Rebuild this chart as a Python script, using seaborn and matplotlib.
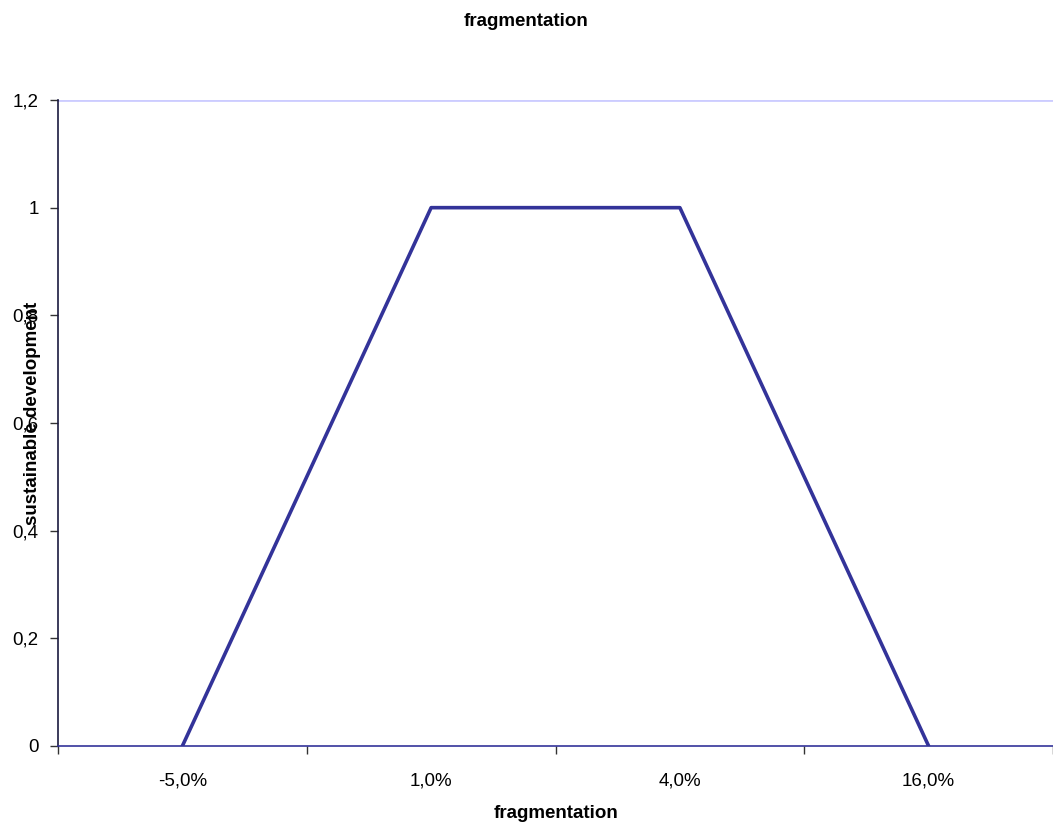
import matplotlib
matplotlib.use("Agg")
import matplotlib.pyplot as plt
import seaborn as sns
import pandas as pd
from matplotlib.ticker import FixedLocator, FuncFormatter

# datos
categorias = ["-5,0%", "1,0%", "4,0%", "16,0%"]
valores = [0, 1, 1, 0]
yticks = [0, 0.2, 0.4, 0.6, 0.8, 1.0, 1.2]

sns.set_theme(style="white")
plt.rcParams['font.family'] = ['Liberation Sans', 'DejaVu Sans']
plt.rcParams['text.color'] = 'black'
plt.rcParams['xtick.color'] = 'black'
plt.rcParams['ytick.color'] = 'black'
plt.rcParams['axes.labelcolor'] = 'black'

FS = 13.5

df = pd.DataFrame({"x": range(len(categorias)), "y": valores})

fig = plt.figure(figsize=(10.53, 8.24), dpi=100)
ax = fig.add_axes([58/1053, 1 - 746/824, 1 - 58/1053, (746 - 100)/824])

sns.lineplot(data=df, x="x", y="y", ax=ax, color="#333399", linewidth=2.6)

ax.set_xlim(-0.5, len(categorias) - 0.5)
ax.set_ylim(0, 1.2)

# solo la linea de rejilla superior (estilo Excel)
ax.axhline(1.2, color="#ccccff", linewidth=2, zorder=0)

ax.xaxis.set_major_locator(FixedLocator([i - 0.5 for i in range(len(categorias) + 1)]))
ax.xaxis.set_minor_locator(FixedLocator(list(range(len(categorias)))))
ax.xaxis.set_major_formatter(FuncFormatter(lambda v, p: ""))
ax.set_xticklabels(categorias, minor=True)
ax.tick_params(axis="x", which="major", length=6, width=1, color="#333333", direction="out", bottom=True)
ax.tick_params(axis="x", which="minor", length=0, labelsize=FS, pad=19)

ax.set_yticks(yticks)
ax.set_yticklabels([f"{t:g}".replace(".", ",") for t in yticks])
ax.tick_params(axis="y", length=6, width=1, color="#333333", direction="out", left=True, labelsize=FS, pad=8)

for s in ["top", "right"]:
    ax.spines[s].set_visible(False)
ax.spines["left"].set_color("#1a1a40")
ax.spines["left"].set_linewidth(1.2)
ax.spines["bottom"].set_color("#333399")
ax.spines["bottom"].set_linewidth(1.2)

ax.set_xlabel("fragmentation", fontsize=FS, fontweight="bold", labelpad=11)
ax.set_ylabel("")
fig.text(33/1053, 1 - 413/824, "sustainable development", rotation=90, fontsize=FS,
         fontweight="bold", ha="center", va="center")
fig.text(0.5, 1 - 22/824, "fragmentation", fontsize=FS, fontweight="bold", ha="center", va="center")

fig.savefig("out.png", dpi=100)
